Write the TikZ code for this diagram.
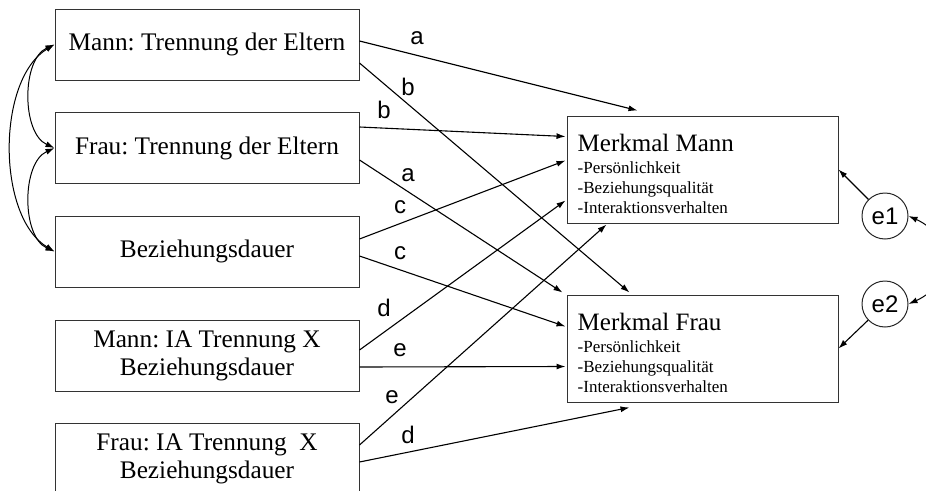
\documentclass[tikz,border=0pt]{standalone}
\usepackage{fontspec}
\setmainfont{Liberation Serif}
\newfontfamily\arialf{Liberation Sans}
\usetikzlibrary{arrows.meta,calc}
\frenchspacing
\begin{document}
\begin{tikzpicture}[x=1pt,y=-1pt,
  lbox/.style={draw=black!80, line width=1pt, minimum width=304pt, minimum height=71pt, inner sep=0pt, align=center, font=\fontsize{25.3}{28}\selectfont},
  mbox/.style={draw=black!80, line width=1pt, minimum width=271pt, minimum height=107pt, inner sep=0pt},
  mtext/.style={anchor=north west, inner sep=0pt, align=left, font=\fontsize{17}{19.7}\selectfont},
  ecirc/.style={circle, draw=black!85, line width=1pt, minimum size=46pt, inner sep=0pt, font=\arialf\fontsize{24}{24}\selectfont},
  arr/.style={-{Latex[length=9pt,width=6pt]}, line width=1.1pt},
  dbl/.style={{Latex[length=9pt,width=6pt]}-{Latex[length=9pt,width=6pt]}, line width=1pt},
  lab/.style={font=\arialf\fontsize{24}{24}\selectfont, inner sep=0pt}
]
\useasboundingbox (0,0) rectangle (926,490);
\clip (0,0) rectangle (926,490);

\node[lbox] (b1) at (207,44.5) {Mann: Trennung der Eltern};
\node[lbox] (b2) at (207,148) {Frau: Trennung der Eltern};
\node[lbox] (b3) at (207,251.5) {Beziehungsdauer};
\node[lbox] (b4) at (207,355.5) {Mann: IA Trennung X\\Beziehungsdauer};
\node[lbox] (b5) at (207,458.5) {Frau: IA Trennung\ \ X\\Beziehungsdauer};

\node[mbox] (mm) at (702.5,169.5) {};
\node[mbox] (mf) at (702.5,348.5) {};
\node[mtext] (mmt) at ($(mm.north west)+(11,18)$) {{\fontsize{25}{25}\selectfont Merkmal Mann}\\[3pt]-Persönlichkeit\\-Beziehungsqualität\\-Interaktionsverhalten};
\node[mtext] (mft) at ($(mf.north west)+(11,18)$) {{\fontsize{25}{25}\selectfont Merkmal Frau}\\[3pt]-Persönlichkeit\\-Beziehungsqualität\\-Interaktionsverhalten};

\node[ecirc] (e1) at (885,216) {e1};
\node[ecirc] (e2) at (885,304) {e2};

% paths
\draw[arr] ($(b1.east)+(0,-3.5)$) -- ($(mm.north west)+(71,-5)$);
\draw[arr] ($(b1.east)+(0,18.5)$) -- ($(mf.north west)+(63,-2)$);
\draw[arr] ($(b2.east)+(0,-21)$) -- ($(mm.north west)+(-1,21)$);
\draw[arr] ($(b2.east)+(0,12)$) -- ($(mf.north west)+(-4,-2)$);
\draw[arr] ($(b3.east)+(0,-12.5)$) -- ($(mm.north west)+(-1,45)$);
\draw[arr] ($(b3.east)+(0,4.5)$) -- ($(mf.north west)+(-1,32)$);
\draw[arr] ($(b4.east)+(0,-5.5)$) -- ($(mm.north west)+(-1,85)$);
\draw[arr] ($(b4.east)+(0,11.5)$) -- ($(mf.north west)+(-1,72)$);
\draw[arr] ($(b5.east)+(0,-13.5)$) -- ($(mm.south west)+(40,1)$);
\draw[arr] ($(b5.east)+(0,3.5)$) -- ($(mf.south west)+(63,5)$);

% labels
\node[lab] (la1) at (417,38) {a};
\node[lab] (lb1) at (408,87) {b};
\node[lab] (lb2) at (384,110) {b};
\node[lab] (la2) at (408,175) {a};
\node[lab] (lc1) at (400,207) {c};
\node[lab] (lc2) at (400,253) {c};
\node[lab] (ld1) at (384,308) {d};
\node[lab] (le1) at (400,350) {e};
\node[lab] (le2) at (392,397) {e};
\node[lab] (ld2) at (408,435) {d};

% covariances
\draw[dbl] (b1.west) .. controls ($(b1.west)+(-33,15)$) and ($(b2.west)+(-33,-15)$) .. (b2.west);
\draw[dbl] (b2.west) .. controls ($(b2.west)+(-33,15)$) and ($(b3.west)+(-33,-15)$) .. (b3.west);
\draw[dbl] (b1.west) .. controls ($(b1.west)+(-58,35)$) and ($(b3.west)+(-58,-35)$) .. (b3.west);
\draw[dbl] (e1.east) .. controls ($(e1.east)+(45,20)$) and ($(e2.east)+(45,-20)$) .. (e2.east);

% residuals
\draw[arr] (e1) -- (mm.east);
\draw[arr] (e2) -- (mf.east);
\end{tikzpicture}
\end{document}
